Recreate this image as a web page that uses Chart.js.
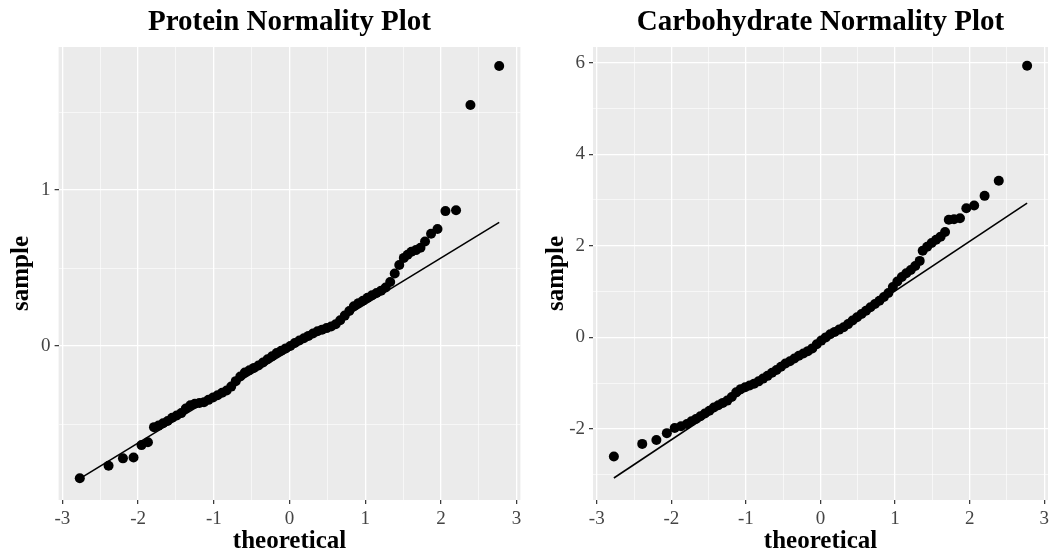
<!DOCTYPE html>
<html>
<head>
<meta charset="utf-8">
<script src="https://cdn.jsdelivr.net/npm/chart.js@4/dist/chart.umd.min.js"></script>
<style>
  html, body { margin: 0; padding: 0; background: #fff; overflow: hidden; }
  #wrap { position: relative; width: 1055px; height: 557px; }
  .panel { position: absolute; top: 0; height: 557px; }
  #left { left: 0; width: 527px; }
  #right { left: 527px; width: 528px; }
</style>
</head>
<body>
<div id="wrap">
  <div class="panel" id="left"><canvas id="proteinChart"></canvas></div>
  <div class="panel" id="right"><canvas id="carbChart"></canvas></div>
</div>
<script>
// theoretical quantiles + sample values
const proteinTheoretical = [-2.77, -2.39, -2.20, -2.06, -1.955, -1.87, -1.79, -1.73, -1.67, -1.61, -1.55, -1.49, -1.43, -1.37, -1.31, -1.25, -1.19, -1.13, -1.07, -1.01, -0.95, -0.89, -0.83, -0.77, -0.71, -0.65, -0.59, -0.53, -0.47, -0.41, -0.35, -0.29, -0.23, -0.17, -0.11, -0.05, 0.01, 0.07, 0.13, 0.19, 0.25, 0.31, 0.37, 0.43, 0.49, 0.55, 0.61, 0.67, 0.73, 0.79, 0.85, 0.91, 0.97, 1.03, 1.09, 1.15, 1.21, 1.27, 1.33, 1.39, 1.45, 1.51, 1.56, 1.61, 1.67, 1.73, 1.79, 1.87, 1.955, 2.06, 2.20, 2.39, 2.77];
const proteinSample = [-0.848, -0.767, -0.72, -0.714, -0.635, -0.617, -0.52, -0.51, -0.495, -0.48, -0.46, -0.445, -0.43, -0.40, -0.38, -0.37, -0.365, -0.36, -0.345, -0.33, -0.315, -0.30, -0.285, -0.26, -0.225, -0.195, -0.17, -0.155, -0.14, -0.125, -0.105, -0.085, -0.065, -0.045, -0.03, -0.015, 0.0, 0.02, 0.035, 0.05, 0.065, 0.08, 0.095, 0.105, 0.115, 0.125, 0.14, 0.165, 0.195, 0.225, 0.255, 0.275, 0.29, 0.31, 0.325, 0.34, 0.355, 0.375, 0.41, 0.465, 0.52, 0.565, 0.585, 0.605, 0.615, 0.63, 0.67, 0.72, 0.75, 0.865, 0.87, 1.545, 1.795];
const proteinLineX = [-2.77, 2.77];
const proteinLineY = [-0.85, 0.793];

const carbTheoretical = [-2.77, -2.39, -2.20, -2.06, -1.955, -1.87, -1.79, -1.73, -1.67, -1.61, -1.55, -1.49, -1.43, -1.37, -1.31, -1.25, -1.19, -1.13, -1.07, -1.01, -0.95, -0.89, -0.83, -0.77, -0.71, -0.65, -0.59, -0.53, -0.47, -0.41, -0.35, -0.29, -0.23, -0.17, -0.11, -0.05, 0.01, 0.07, 0.13, 0.19, 0.25, 0.31, 0.37, 0.43, 0.49, 0.55, 0.61, 0.67, 0.73, 0.79, 0.85, 0.91, 0.97, 1.03, 1.09, 1.15, 1.21, 1.27, 1.33, 1.37, 1.43, 1.49, 1.55, 1.61, 1.67, 1.72, 1.79, 1.87, 1.955, 2.06, 2.20, 2.39, 2.77];
const carbSample = [-2.60, -2.325, -2.24, -2.09, -1.98, -1.94, -1.89, -1.83, -1.78, -1.72, -1.66, -1.60, -1.53, -1.48, -1.43, -1.38, -1.30, -1.20, -1.13, -1.09, -1.05, -1.01, -0.96, -0.90, -0.84, -0.77, -0.71, -0.64, -0.57, -0.52, -0.46, -0.40, -0.35, -0.30, -0.24, -0.15, -0.07, 0.0, 0.07, 0.12, 0.17, 0.22, 0.29, 0.37, 0.44, 0.51, 0.58, 0.66, 0.73, 0.80, 0.88, 0.97, 1.10, 1.22, 1.32, 1.40, 1.47, 1.56, 1.67, 1.89, 1.98, 2.06, 2.13, 2.20, 2.30, 2.57, 2.58, 2.60, 2.82, 2.88, 3.09, 3.42, 5.93];
const carbLineX = [-2.77, 2.77];
const carbLineY = [-3.07, 2.93];

// axis breaks
const xMajorTicks = [-3, -2, -1, 0, 1, 2, 3];
const xMinorTicks = [-2.5, -1.5, -0.5, 0.5, 1.5, 2.5];
const proteinYMajor = [0, 1];
const proteinYMinor = [-0.5, 0.5, 1.5];
const carbYMajor = [-2, 0, 2, 4, 6];
const carbYMinor = [-3, -1, 1, 3, 5];

const SERIF = "'Liberation Serif', 'DejaVu Serif', serif";

// grey panel behind the grid, like ggplot
const panelBg = {
  id: 'panelBg',
  beforeDraw(chart) {
    const a = chart.chartArea;
    const ctx = chart.ctx;
    ctx.save();
    ctx.fillStyle = '#ebebeb';
    ctx.fillRect(a.left, a.top, a.right - a.left, a.bottom - a.top);
    ctx.restore();
  }
};

function toPoints(xs, ys) {
  return xs.map((x, i) => ({ x: x, y: ys[i] }));
}

function axis(major, minor, range, conf) {
  const all = major.concat(minor).sort((a, b) => a - b);
  return {
    type: 'linear',
    position: conf.position,
    min: range[0],
    max: range[1],
    afterBuildTicks: (scale) => { scale.ticks = all.map(v => ({ value: v })); },
    afterFit: (scale) => {
      if (conf.position === 'left') scale.width = conf.size;
      else scale.height = conf.size;
    },
    border: { display: false },
    grid: {
      color: '#ffffff',
      lineWidth: (c) => (c.tick && major.includes(c.tick.value)) ? 1.3 : 0.6,
      tickColor: (c) => (c.tick && major.includes(c.tick.value)) ? '#333333' : 'rgba(0,0,0,0)',
      tickWidth: 1.2,
      tickLength: 4,
    },
    ticks: {
      autoSkip: false,
      maxRotation: 0,
      padding: 4,
      color: '#444444',
      font: { family: SERIF, size: 19 },
      callback: (v) => major.includes(v) ? String(v) : '',
    },
    title: {
      display: true,
      text: conf.title,
      color: '#000',
      font: { family: SERIF, size: 25, weight: 'bold', lineHeight: 1.2 },
      padding: conf.titlePad,
    },
  };
}

function makeChart(id, o) {
  return new Chart(document.getElementById(id), {
    type: 'scatter',
    data: {
      datasets: [
        {
          data: toPoints(o.lineX, o.lineY),
          showLine: true,
          borderColor: '#000',
          borderWidth: 1.6,
          pointRadius: 0,
        },
        {
          data: toPoints(o.x, o.y),
          backgroundColor: '#000',
          pointRadius: 5,
          pointBorderWidth: 0,
        },
      ]
    },
    options: {
      responsive: true,
      maintainAspectRatio: false,
      animation: false,
      layout: { padding: { left: 0, right: o.padRight, top: 0, bottom: 0 } },
      plugins: {
        legend: { display: false },
        tooltip: { enabled: false },
        title: {
          display: true,
          text: o.title,
          fullSize: false,
          color: '#000',
          font: { family: SERIF, size: 29, weight: 'bold', lineHeight: 1.2 },
          padding: { top: 5, bottom: 7.2 },
        },
      },
      scales: {
        x: axis(xMajorTicks, xMinorTicks, [-3.05, 3.05],
          { position: 'bottom', size: 57, title: 'theoretical', titlePad: { top: 0, bottom: 0 } }),
        y: axis(o.yMajor, o.yMinor, o.yRange,
          { position: 'left', size: o.yWidth, title: 'sample', titlePad: { top: o.yTitlePad, bottom: 0 } }),
      }
    },
    plugins: [panelBg]
  });
}

makeChart('proteinChart', {
  title: 'Protein Normality Plot',
  x: proteinTheoretical, y: proteinSample,
  lineX: proteinLineX, lineY: proteinLineY,
  yMajor: proteinYMajor, yMinor: proteinYMinor,
  yRange: [-0.987, 1.917],
  yWidth: 58.6, yTitlePad: 7, padRight: 6.6,
});

makeChart('carbChart', {
  title: 'Carbohydrate Normality Plot',
  x: carbTheoretical, y: carbSample,
  lineX: carbLineX, lineY: carbLineY,
  yMajor: carbYMajor, yMinor: carbYMinor,
  yRange: [-3.55, 6.34],
  yWidth: 66, yTitlePad: 15, padRight: 7,
});
</script>
</body>
</html>
